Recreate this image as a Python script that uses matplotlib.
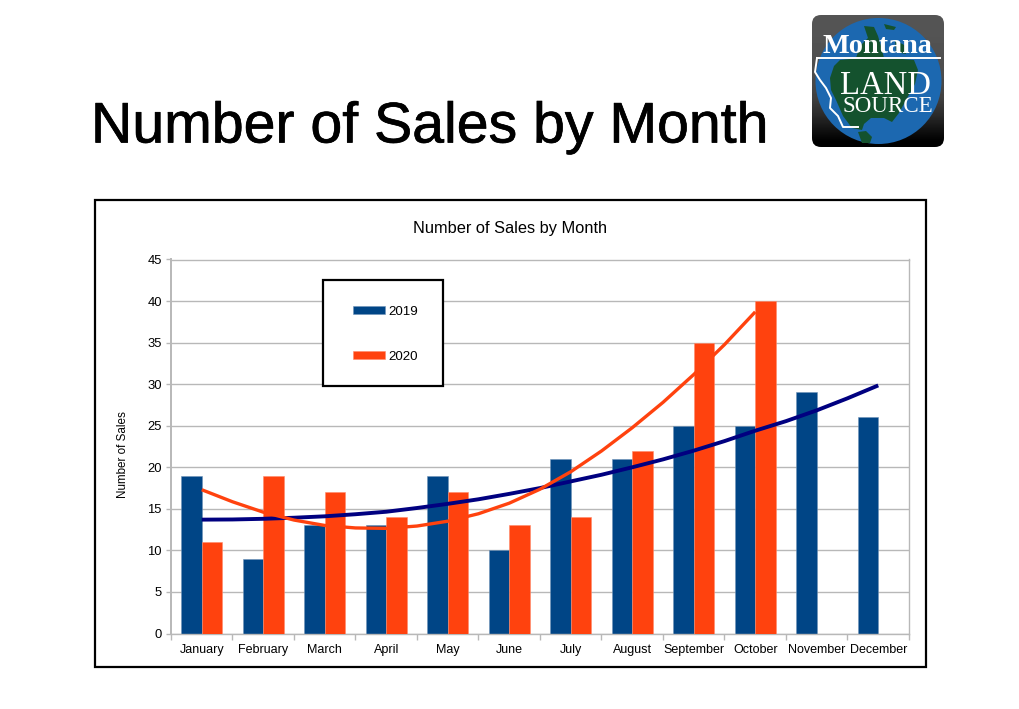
import numpy as np
import matplotlib
matplotlib.use("Agg")
import matplotlib.pyplot as plt
import matplotlib.patheffects as pe
from matplotlib.patches import Rectangle, Circle, Polygon, FancyBboxPatch

plt.rcParams['font.family'] = ['Liberation Sans', 'DejaVu Sans']

months = ["January", "February", "March", "April", "May", "June", "July",
          "August", "September", "October", "November", "December"]
sales_2019 = [19, 9, 13, 13, 19, 10, 21, 21, 25, 25, 29, 26]
sales_2020 = [11, 19, 17, 14, 17, 13, 14, 22, 35, 40]

# trend lines, every half month
trend_x_2019 = [0, .5, 1, 1.5, 2, 2.5, 3, 3.5, 4, 4.5, 5, 5.5, 6, 6.5, 7, 7.5, 8, 8.5, 9, 9.5, 10, 10.5, 11]
trend_2019 = [13.7, 13.72, 13.8, 13.93, 14.1, 14.35, 14.65, 15.1, 15.6, 16.15, 16.8, 17.5, 18.3,
              19.1, 20.0, 20.95, 22.0, 23.15, 24.4, 25.55, 26.85, 28.3, 29.85]
trend_x_2020 = [0, .5, 1, 1.5, 2, 2.5, 3, 3.5, 4, 4.5, 5, 5.5, 6, 6.5, 7, 7.5, 8, 8.5, 9]
trend_2020 = [17.3, 15.85, 14.6, 13.65, 13.0, 12.7, 12.65, 12.93, 13.51, 14.41, 15.68, 17.36, 19.46,
              21.96, 24.76, 27.81, 31.16, 34.76, 38.7]

W, H = 1020, 709
BLUE = "#004586"
ORANGE = "#ff420e"
GREY = "#b8b8b8"

fig = plt.figure(figsize=(W / 100, H / 100), dpi=100)

# page layer in pixel coordinates: title, chart frame, logo
page = fig.add_axes([0, 0, 1, 1])
page.set_xlim(0, W)
page.set_ylim(H, 0)
page.axis("off")

page.text(91, 142.5, "Number of Sales by Month", fontsize=41.2, color="black", va="baseline", ha="left",
          path_effects=[pe.withStroke(linewidth=0.5, foreground="black")])
page.add_patch(Rectangle((95, 200), 831, 467, fc="white", ec="black", lw=1.6))
page.text(510.5, 228.5, "Number of Sales by Month", fontsize=11.8, color="black", ha="center", va="center")

# logo
box = FancyBboxPatch((820, 23), 116, 116, boxstyle="round,pad=8,rounding_size=9", fc="none", ec="none")
page.add_patch(box)
grad = np.array([[0.33], [0.33], [0.32], [0.31], [0.30], [0.28], [0.24], [0.17], [0.08], [0.0]])
img = page.imshow(grad, extent=(812, 944, 148, 15), cmap="gray", vmin=0, vmax=1, aspect="auto",
                  interpolation="bilinear", zorder=1)
img.set_clip_path(box)
page.set_xlim(0, W)
page.set_ylim(H, 0)
page.add_patch(Circle((878.5, 81), 63, fc="#1c68b0", ec="none", zorder=2))

land = [
    [(830, 78), (834, 66), (840, 60), (860, 58), (890, 58), (914, 60), (918, 70), (915, 84), (906, 100),
     (899, 113), (892, 122), (884, 118), (871, 118), (864, 124), (862, 130), (852, 128), (843, 116),
     (836, 100), (831, 90)],
    [(864, 26), (874, 27), (878, 36), (881, 46), (884, 58), (856, 58), (860, 46), (868, 38)],
    [(884, 24), (896, 27), (894, 30), (886, 29)],
    [(895, 40), (906, 46), (906, 54), (896, 52)],
    [(858, 132), (866, 131), (872, 137), (870, 143), (862, 143)],
]
for shape in land:
    page.add_patch(Polygon(shape, closed=True, fc="#14522e", ec="none", zorder=3))

state = [(817, 58), (815, 72), (820, 80), (826, 88), (831, 98), (830, 108), (838, 116), (843, 127), (858, 127)]
page.plot([p[0] for p in state], [p[1] for p in state], color="white", lw=1.4, zorder=4)
page.plot([817, 940], [58, 58], color="white", lw=1.4, zorder=4)
page.text(877.5, 53, "Montana", family="Liberation Serif", weight="bold", fontsize=20.3, color="white",
          ha="center", va="baseline", zorder=5)
page.text(885, 93.5, "LAND", family="Liberation Serif", fontsize=23.5, color="white", ha="center", va="baseline", zorder=5)
page.text(888, 111.5, "SOURCE", family="Liberation Serif", fontsize=16.6, color="white", ha="center", va="baseline", zorder=5)

# chart
left, right, top, bottom = 171, 909, 259.5, 633.5
ax = fig.add_axes([left / W, 1 - bottom / H, (right - left) / W, (bottom - top) / H])
ax.set_facecolor("none")

x = np.arange(len(months))
bar_w = 1 / 3
b1 = ax.bar(x[:len(sales_2019)] - bar_w / 2, sales_2019, bar_w, color=BLUE, edgecolor="#6f93b8", linewidth=0.4, zorder=2, label="2019")
b2 = ax.bar(x[:len(sales_2020)] + bar_w / 2, sales_2020, bar_w, color=ORANGE, edgecolor="#ff8a6a", linewidth=0.4, zorder=3, label="2020")
ax.plot(trend_x_2019, trend_2019, color="#000080", lw=2.8, zorder=5, solid_capstyle="butt")
ax.plot(trend_x_2020, trend_2020, color=ORANGE, lw=2.4, zorder=6, solid_capstyle="butt")

ax.set_xlim(-0.5, 11.5)
ax.set_ylim(0, 45)
ax.set_yticks(range(0, 50, 5))
ax.set_xticks(np.arange(-0.5, 12, 1))
ax.set_xticklabels([])
ax.set_xticks(x, labels=months, minor=True)
ax.tick_params(axis="x", which="major", length=4.5, width=1, color=GREY)
ax.tick_params(axis="x", which="minor", length=0, labelsize=9, pad=7.5, colors="black")
ax.tick_params(axis="y", length=3.6, width=1, color=GREY, labelsize=9.4, pad=3)
ax.grid(axis="y", color=GREY, lw=1, zorder=1)
ax.set_axisbelow(True)
for s in ax.spines.values():
    s.set_color(GREY)
    s.set_linewidth(1)
ax.spines["left"].set_linewidth(1.4)
ax.set_ylabel("Number of Sales", fontsize=8.4)
ax.yaxis.set_label_coords((129.5 - left) / (right - left), (bottom - 454.5) / (bottom - top))

# legend frame is sized by hand, the legend itself sits inside it
lx0, lx1, ly0, ly1 = 323, 443, 280, 386
ax.add_patch(Rectangle(((lx0 - left) / (right - left), (bottom - ly1) / (bottom - top)),
                       (lx1 - lx0) / (right - left), (ly1 - ly0) / (bottom - top),
                       transform=ax.transAxes, fc="white", ec="black", lw=1.6, zorder=10))
leg = ax.legend(handles=[b1, b2], loc="center", frameon=False, fontsize=9.6, labelspacing=2.5,
                handlelength=2.35, handleheight=0.55, handletextpad=0.3, borderpad=0,
                bbox_to_anchor=((386 - left) / (right - left), (bottom - 334.5) / (bottom - top)))
leg.set_zorder(11)

fig.savefig("out.png", dpi=100)
